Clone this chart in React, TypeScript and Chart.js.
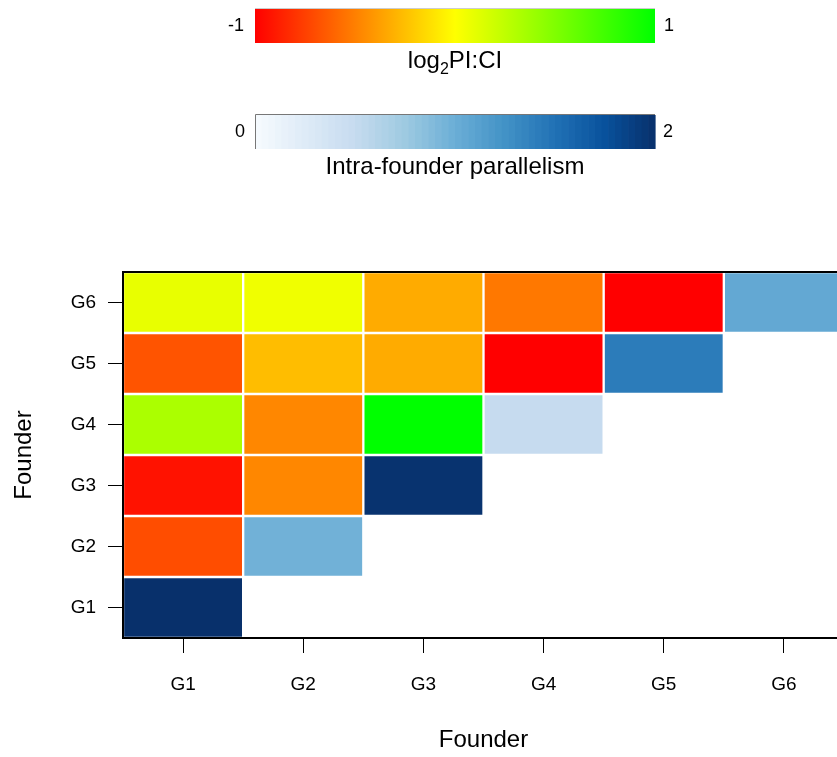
import React, { useEffect, useRef } from 'react';
import { Chart, registerables } from 'chart.js';

Chart.register(...registerables);

// ---- data ----
const founders = ['G1', 'G2', 'G3', 'G4', 'G5', 'G6'];
// log2 PI:CI for each row (founder on y), columns G1.. (below the diagonal)
const logRatioG1: number[] = [];
const logRatioG2 = [-0.7];
const logRatioG3 = [-0.93, -0.47];
const logRatioG4 = [0.33, -0.47, 1.0];
const logRatioG5 = [-0.67, -0.26, -0.33, -1.0];
const logRatioG6 = [0.09, 0.06, -0.33, -0.53, -1.0];
// intra-founder parallelism (diagonal)
const parallelism = [2.0, 0.97, 1.98, 0.5, 1.42, 1.05];
const logRatioTicks = ['-1', '1'];
const parallelismTicks = ['0', '2'];
const logRatioRange = [-1, 1];
const parallelismRange = [0, 2];

const logRatioRows = [logRatioG1, logRatioG2, logRatioG3, logRatioG4, logRatioG5, logRatioG6];

const FONT = '"Liberation Sans", Arial, Helvetica, sans-serif';
const BLUES = ['#F7FBFF', '#DEEBF7', '#C6DBEF', '#9ECAE1', '#6BAED6', '#4292C6', '#2171B5', '#08519C', '#08306B'];

function hexToRgb(h: string) {
  return [parseInt(h.slice(1, 3), 16), parseInt(h.slice(3, 5), 16), parseInt(h.slice(5, 7), 16)];
}

function logColor(v: number) {
  const [lo, hi] = logRatioRange;
  const t = Math.max(0, Math.min(1, (v - lo) / (hi - lo)));
  if (t < 0.5) return `rgb(255,${Math.round(255 * t * 2)},0)`;
  return `rgb(${Math.round(255 * (1 - (t - 0.5) * 2))},255,0)`;
}

function blueColor(v: number) {
  const [lo, hi] = parallelismRange;
  const t = Math.max(0, Math.min(1, (v - lo) / (hi - lo))) * (BLUES.length - 1);
  const i = Math.min(BLUES.length - 2, Math.floor(t));
  const f = t - i;
  const a = hexToRgb(BLUES[i]);
  const b = hexToRgb(BLUES[i + 1]);
  const c = a.map((x, k) => Math.round(x + (b[k] - x) * f));
  return `rgb(${c[0]},${c[1]},${c[2]})`;
}

function cellColor(row: number, col: number) {
  if (row === col) return blueColor(parallelism[row]);
  const v = logRatioRows[row][col];
  return v === undefined ? 'rgba(0,0,0,0)' : logColor(v);
}

const colorbarPlugin = {
  id: 'colorbars',
  afterDraw(chart: any) {
    const ctx: CanvasRenderingContext2D = chart.ctx;
    ctx.save();
    // --- log2 PI:CI bar ---
    const x0 = 255, w = 400, cx = x0 + w / 2;
    const g = ctx.createLinearGradient(x0, 0, x0 + w, 0);
    g.addColorStop(0, logColor(logRatioRange[0]));
    g.addColorStop(0.5, logColor((logRatioRange[0] + logRatioRange[1]) / 2));
    g.addColorStop(1, logColor(logRatioRange[1]));
    ctx.fillStyle = g;
    ctx.fillRect(x0, 9, w, 34);
    ctx.strokeStyle = '#cccccc';
    ctx.lineWidth = 1;
    ctx.beginPath();
    ctx.moveTo(x0, 8.5);
    ctx.lineTo(x0 + w, 8.5);
    ctx.stroke();

    // --- parallelism bar (stepped) ---
    const n = 60;
    for (let i = 0; i < n; i++) {
      const v = parallelismRange[0] + ((i + 0.5) / n) * (parallelismRange[1] - parallelismRange[0]);
      ctx.fillStyle = blueColor(v);
      ctx.fillRect(x0 + (i * w) / n, 115, w / n + 0.6, 34);
    }
    ctx.strokeStyle = '#777777';
    ctx.beginPath();
    ctx.moveTo(x0 + 0.5, 149);
    ctx.lineTo(x0 + 0.5, 114.5);
    ctx.lineTo(x0 + w, 114.5);
    ctx.stroke();

    // tick labels
    ctx.fillStyle = '#000';
    ctx.font = `18px ${FONT}`;
    ctx.textBaseline = 'middle';
    ctx.textAlign = 'right';
    ctx.fillText(logRatioTicks[0], 244, 26);
    ctx.fillText(parallelismTicks[0], 245, 132);
    ctx.textAlign = 'left';
    ctx.fillText(logRatioTicks[1], 664, 26);
    ctx.fillText(parallelismTicks[1], 663, 132);

    // titles
    ctx.textBaseline = 'alphabetic';
    ctx.font = `24px ${FONT}`;
    const wLog = ctx.measureText('log').width;
    const wRest = ctx.measureText('PI:CI').width;
    ctx.font = `16px ${FONT}`;
    const wSub = ctx.measureText('2').width;
    let tx = cx - (wLog + wSub + wRest) / 2;
    ctx.font = `24px ${FONT}`;
    ctx.fillText('log', tx, 68);
    tx += wLog;
    ctx.font = `16px ${FONT}`;
    ctx.fillText('2', tx, 74);
    tx += wSub;
    ctx.font = `24px ${FONT}`;
    ctx.fillText('PI:CI', tx, 68);

    ctx.textAlign = 'center';
    ctx.fillText('Intra-founder parallelism', cx, 174);

    // plot frame
    const a = chart.chartArea;
    ctx.strokeStyle = '#000';
    ctx.lineWidth = 2;
    ctx.strokeRect(a.left, a.top, a.right - a.left, a.bottom - a.top);
    ctx.restore();
  },
};

export default function App() {
  const ref = useRef<HTMLCanvasElement>(null);

  useEffect(() => {
    if (!ref.current) return;
    const datasets = founders.map((name, r) => ({
      label: name,
      data: founders.map((_, c) => (c <= r ? [r + 0.5, r + 1.5] : null)),
      backgroundColor: (ctx: any) => cellColor(r, ctx.dataIndex),
      borderColor: 'rgba(255,255,255,0.9)',
      borderWidth: 1.5,
      borderSkipped: false,
      grouped: false,
      barPercentage: 1,
      categoryPercentage: 1,
    }));

    const tickGrid = {
      drawOnChartArea: false,
      drawTicks: true,
      tickLength: 15,
      tickColor: '#000',
      tickWidth: 1,
      offset: false,
    };

    const chart = new Chart(ref.current, {
      type: 'bar',
      data: { labels: founders, datasets: datasets as any },
      options: {
        responsive: false,
        animation: false,
        devicePixelRatio: 1,
        layout: { padding: { top: 272, left: 0, right: 0, bottom: 0 } },
        plugins: { legend: { display: false }, tooltip: { enabled: false } },
        scales: {
          x: {
            type: 'category',
            offset: true,
            grid: tickGrid,
            border: { display: true, color: '#000', width: 2 },
            ticks: { color: '#000', font: { size: 19, family: FONT }, padding: 20 },
            title: {
              display: true,
              text: 'Founder',
              color: '#000',
              font: { size: 24, family: FONT },
              padding: { top: 0, bottom: 2 },
            },
            afterFit: (s: any) => {
              s.height = 119;
            },
          },
          y: {
            type: 'linear',
            min: 0.5,
            max: 6.5,
            grid: tickGrid,
            border: { display: true, color: '#000', width: 2 },
            afterBuildTicks: (s: any) => {
              s.ticks = founders.map((_, i) => ({ value: i + 1 }));
            },
            ticks: {
              color: '#000',
              font: { size: 19, family: FONT },
              padding: 12,
              callback: (v: any) => founders[Math.round(Number(v)) - 1] ?? '',
            },
            title: {
              display: true,
              text: 'Founder',
              color: '#000',
              font: { size: 24, family: FONT },
              padding: { top: 10, bottom: 0 },
            },
            afterFit: (s: any) => {
              s.width = 123;
            },
          },
        },
      } as any,
      plugins: [colorbarPlugin],
    });
    return () => chart.destroy();
  }, []);

  return (
    <div
      style={{
        position: 'absolute',
        left: 0,
        top: 0,
        width: 837,
        height: 757,
        overflow: 'hidden',
        background: '#fff',
      }}
    >
      <canvas ref={ref} width={844} height={757} style={{ display: 'block', width: 844, height: 757 }} />
    </div>
  );
}
